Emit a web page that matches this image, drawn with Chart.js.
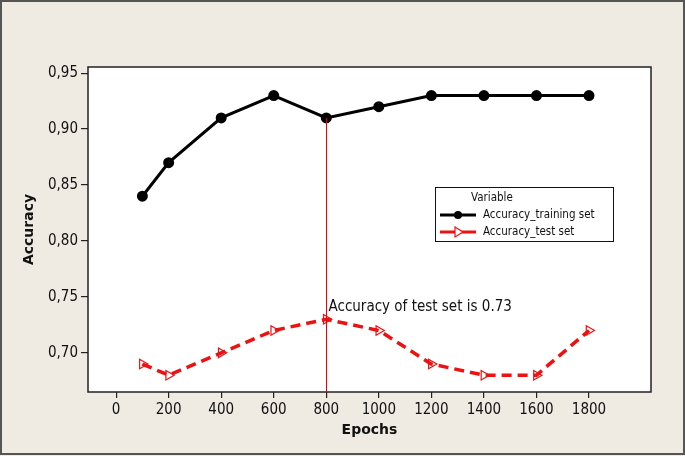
<!DOCTYPE html>
<html>
<head>
<meta charset="utf-8">
<script src="https://cdn.jsdelivr.net/npm/chart.js@4"></script>
<style>
  html, body { margin: 0; padding: 0; background: #efeae2; }
  #wrap { width: 685px; height: 456px; }
</style>
</head>
<body>
<div id="wrap"><canvas id="myChart" width="685" height="456"></canvas></div>
<script>
// data
let epochs = [100, 200, 400, 600, 800, 1000, 1200, 1400, 1600, 1800];
let trainAcc = [0.84, 0.87, 0.91, 0.93, 0.91, 0.92, 0.93, 0.93, 0.93, 0.93];
let testAcc = [0.69, 0.68, 0.70, 0.72, 0.73, 0.72, 0.69, 0.68, 0.68, 0.72];
let xTicks = [0, 200, 400, 600, 800, 1000, 1200, 1400, 1600, 1800];
let yTicks = [0.70, 0.75, 0.80, 0.85, 0.90, 0.95];
let markEpoch = 800;
let noteText = 'Accuracy of test set is 0.73';

const FONT = '"DejaVu Sans Condensed", "DejaVu Sans", sans-serif';
const TITLE_FONT = '"DejaVu Sans", sans-serif';

function toPoints(xs, ys) {
    return xs.map((x, i) => ({x: x, y: ys[i]}));
}

const extras = {
    id: 'extras',
    beforeDraw(chart) {
        const c = chart.ctx;
        const a = chart.chartArea;
        c.save();
        c.fillStyle = '#efeae2';
        c.fillRect(0, 0, chart.width, chart.height);
        c.strokeStyle = '#555';
        c.lineWidth = 2;
        c.strokeRect(1, 1, chart.width - 2, chart.height - 3);
        c.fillStyle = '#fff';
        c.fillRect(a.left, a.top, a.right - a.left, a.bottom - a.top);
        c.restore();
    },
    afterDatasetsDraw(chart) {
        const c = chart.ctx;
        const a = chart.chartArea;
        const xs = chart.scales.x, ys = chart.scales.y;
        c.save();
        // plot frame
        c.strokeStyle = '#222';
        c.lineWidth = 1.5;
        c.strokeRect(a.left, a.top, a.right - a.left, a.bottom - a.top);

        // marker line at 800 epochs
        let idx = epochs.indexOf(markEpoch);
        let px = Math.round(xs.getPixelForValue(markEpoch)) + 0.5;
        c.strokeStyle = '#e00';
        c.lineWidth = 1;
        c.beginPath();
        c.moveTo(px, ys.getPixelForValue(trainAcc[idx]));
        c.lineTo(px, a.bottom);
        c.stroke();

        c.fillStyle = '#111';
        c.font = '15px ' + FONT;
        c.textBaseline = 'middle';
        c.fillText(noteText, px + 2, ys.getPixelForValue(0.7405));

        // legend box
        let bx = 435, by = 187, bw = 178, bh = 54;
        c.fillStyle = '#fff';
        c.fillRect(bx, by, bw, bh);
        c.strokeStyle = '#111';
        c.lineWidth = 1;
        c.strokeRect(bx + 0.5, by + 0.5, bw, bh);
        c.font = '11.5px ' + FONT;
        c.fillStyle = '#111';
        c.fillText('Variable', 471, by + 11);
        chart.data.datasets.forEach((ds, i) => {
            let ly = by + 28 + i * 17;
            c.strokeStyle = ds.borderColor;
            c.lineWidth = 3;
            c.setLineDash([]);
            c.beginPath();
            c.moveTo(440, ly);
            c.lineTo(476, ly);
            c.stroke();
            if (i === 0) {
                c.fillStyle = ds.pointBackgroundColor;
                c.beginPath();
                c.arc(458, ly, 4, 0, Math.PI * 2);
                c.fill();
            } else {
                c.fillStyle = '#fff';
                c.strokeStyle = ds.borderColor;
                c.lineWidth = 1.2;
                c.beginPath();
                c.moveTo(455, ly - 5);
                c.lineTo(463, ly);
                c.lineTo(455, ly + 5);
                c.closePath();
                c.fill();
                c.stroke();
            }
            c.fillStyle = '#111';
            c.fillText(ds.label, 483, ly);
        });
        c.restore();
    }
};

let ctx = document.getElementById('myChart');
new Chart(ctx, {
    type: 'line',
    data: {
        datasets: [{
            label: 'Accuracy_training set',
            data: toPoints(epochs, trainAcc),
            borderColor: '#000',
            backgroundColor: '#000',
            pointBackgroundColor: '#000',
            pointBorderColor: '#000',
            borderWidth: 3,
            pointRadius: 4,
            pointStyle: 'circle',
            tension: 0
        }, {
            label: 'Accuracy_test set',
            data: toPoints(epochs, testAcc),
            borderColor: '#ee1111',
            backgroundColor: '#fff',
            pointBackgroundColor: 'rgba(255,255,255,0)',
            pointBorderColor: '#ee1111',
            pointBorderWidth: 1.2,
            borderWidth: 3.5,
            borderDash: [10, 6],
            pointRadius: 5.5,
            pointStyle: 'triangle',
            rotation: 90,
            tension: 0
        }]
    },
    options: {
        responsive: false,
        animation: false,
        layout: { padding: { left: 0, top: 67, right: 34, bottom: 0 } },
        plugins: {
            legend: { display: false },
            tooltip: { enabled: false }
        },
        scales: {
            x: {
                type: 'linear',
                min: -107,
                max: 2036,
                afterBuildTicks: s => { s.ticks = xTicks.map(v => ({value: v})); },
                afterFit: s => { s.height = 64; },
                grid: { drawOnChartArea: false, tickLength: 6, color: '#222', lineWidth: 1.2 },
                border: { display: false },
                ticks: { color: '#111', font: { family: FONT, size: 15 }, padding: 3, maxRotation: 0,
                         callback: v => String(v) },
                title: { display: true, text: 'Epochs', color: '#111',
                         font: { family: TITLE_FONT, size: 14, weight: 'bold' }, padding: { bottom: 17 } }
            },
            y: {
                min: 0.665,
                max: 0.9555,
                afterBuildTicks: s => { s.ticks = yTicks.map(v => ({value: v})); },
                afterFit: s => { s.width = 88; },
                grid: { drawOnChartArea: false, tickLength: 7, color: '#222', lineWidth: 1.2 },
                border: { display: false },
                ticks: { color: '#111', font: { family: FONT, size: 15 }, padding: 3,
                         callback: v => v.toFixed(2).replace('.', ',') },
                title: { display: true, text: 'Accuracy', color: '#111',
                         font: { family: TITLE_FONT, size: 14, weight: 'bold' }, padding: { top: 21 } }
            }
        }
    },
    plugins: [extras]
});
</script>
</body>
</html>
